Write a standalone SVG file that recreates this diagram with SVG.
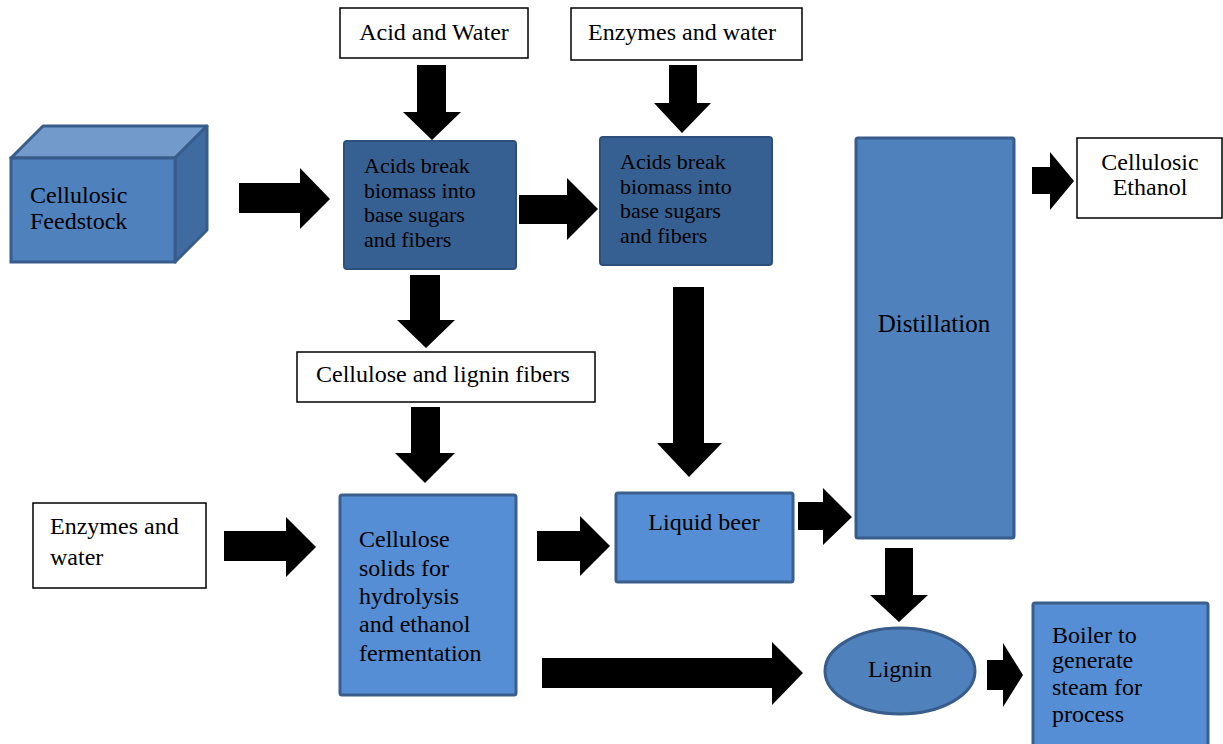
<svg xmlns="http://www.w3.org/2000/svg" width="1223" height="744" viewBox="0 0 1223 744">
<rect width="1223" height="744" fill="#fff"/>
<g id="feedstock">
<polygon points="11,158 43,126 207,126 175,158" fill="#729aca" stroke="#385d8a" stroke-width="3" stroke-linejoin="round"/>
<polygon points="175,158 207,126 207,230 175,262" fill="#3f6ba1" stroke="#385d8a" stroke-width="3" stroke-linejoin="round"/>
<rect x="11" y="158" width="164" height="104" fill="#4f81bd" stroke="#385d8a" stroke-width="3"/>
<text x="30" y="203" font-family="Liberation Serif" font-size="24" fill="#000">Cellulosic</text>
<text x="30" y="229" font-family="Liberation Serif" font-size="24" fill="#000">Feedstock</text>
</g>
<g id="acid-water">
<rect x="340" y="8" width="188" height="50" fill="#fff" stroke="#000" stroke-width="1.5"/>
<text x="434" y="40" text-anchor="middle" font-family="Liberation Serif" font-size="24" fill="#000">Acid and Water</text>
</g>
<g id="enzymes-water-top">
<rect x="571" y="8" width="231" height="52" fill="#fff" stroke="#000" stroke-width="1.5"/>
<text x="682" y="40" text-anchor="middle" font-family="Liberation Serif" font-size="24" fill="#000">Enzymes and water</text>
</g>
<g id="acids-1">
<rect x="344" y="141" width="172" height="128" rx="3" fill="#376092" stroke="#2c4f7c" stroke-width="2"/>
<text x="364" y="173" font-family="Liberation Serif" font-size="22" fill="#000">Acids break</text>
<text x="364" y="198" font-family="Liberation Serif" font-size="22" fill="#000">biomass into</text>
<text x="364" y="222" font-family="Liberation Serif" font-size="22" fill="#000">base sugars</text>
<text x="364" y="247" font-family="Liberation Serif" font-size="22" fill="#000">and fibers</text>
</g>
<g id="acids-2">
<rect x="600" y="137" width="172" height="128" rx="3" fill="#376092" stroke="#2c4f7c" stroke-width="2"/>
<text x="620" y="169" font-family="Liberation Serif" font-size="22" fill="#000">Acids break</text>
<text x="620" y="194" font-family="Liberation Serif" font-size="22" fill="#000">biomass into</text>
<text x="620" y="218" font-family="Liberation Serif" font-size="22" fill="#000">base sugars</text>
<text x="620" y="243" font-family="Liberation Serif" font-size="22" fill="#000">and fibers</text>
</g>
<g id="fibers">
<rect x="297" y="352" width="298" height="50" fill="#fff" stroke="#000" stroke-width="1.5"/>
<text x="316" y="382" font-family="Liberation Serif" font-size="24" fill="#000">Cellulose and lignin fibers</text>
</g>
<g id="enzymes-water-left">
<rect x="33" y="503" width="173" height="85" fill="#fff" stroke="#000" stroke-width="1.5"/>
<text x="50" y="534" font-family="Liberation Serif" font-size="24" fill="#000">Enzymes and</text>
<text x="50" y="565" font-family="Liberation Serif" font-size="24" fill="#000">water</text>
</g>
<g id="solids">
<rect x="340" y="495" width="176" height="200" rx="2" fill="#558ed5" stroke="#3a5f8c" stroke-width="3"/>
<text x="359" y="547" font-family="Liberation Serif" font-size="24" fill="#000">Cellulose</text>
<text x="359" y="576" font-family="Liberation Serif" font-size="24" fill="#000">solids for</text>
<text x="359" y="604" font-family="Liberation Serif" font-size="24" fill="#000">hydrolysis</text>
<text x="359" y="632" font-family="Liberation Serif" font-size="24" fill="#000">and ethanol</text>
<text x="359" y="661" font-family="Liberation Serif" font-size="24" fill="#000">fermentation</text>
</g>
<g id="beer">
<rect x="616" y="493" width="177" height="89" rx="2" fill="#558ed5" stroke="#3a5f8c" stroke-width="3"/>
<text x="704" y="530" text-anchor="middle" font-family="Liberation Serif" font-size="24" fill="#000">Liquid beer</text>
</g>
<g id="distillation">
<rect x="856" y="138" width="158" height="400" rx="2" fill="#4f81bd" stroke="#385d8a" stroke-width="3"/>
<text x="934" y="332" text-anchor="middle" font-family="Liberation Serif" font-size="25" fill="#000">Distillation</text>
</g>
<g id="ethanol">
<rect x="1077" y="138" width="145" height="80" fill="#fff" stroke="#000" stroke-width="1.5"/>
<text x="1150" y="170" text-anchor="middle" font-family="Liberation Serif" font-size="24" fill="#000">Cellulosic</text>
<text x="1150" y="195" text-anchor="middle" font-family="Liberation Serif" font-size="24" fill="#000">Ethanol</text>
</g>
<g id="lignin">
<ellipse cx="900" cy="671" rx="75" ry="43" fill="#4f81bd" stroke="#385d8a" stroke-width="3"/>
<text x="900" y="677" text-anchor="middle" font-family="Liberation Serif" font-size="24" fill="#000">Lignin</text>
</g>
<g id="boiler">
<rect x="1033" y="603" width="175" height="150" rx="2" fill="#558ed5" stroke="#3a5f8c" stroke-width="3"/>
<text x="1052" y="643" font-family="Liberation Serif" font-size="24" fill="#000">Boiler to</text>
<text x="1052" y="668" font-family="Liberation Serif" font-size="24" fill="#000">generate</text>
<text x="1052" y="695" font-family="Liberation Serif" font-size="24" fill="#000">steam for</text>
<text x="1052" y="722" font-family="Liberation Serif" font-size="24" fill="#000">process</text>
</g>
<g id="connectors" fill="#000">
<polygon points="239,183 300,183 300,168 330,199 300,229 300,213 239,213"/>
<polygon points="417,65 446,65 446,112 461,112 432,140 403,112 417,112"/>
<polygon points="669,65 697,65 697,103 711,103 682,133 654,103 669,103"/>
<polygon points="519,195 567,195 567,178 598,209 567,240 567,224 519,224"/>
<polygon points="410,275 440,275 440,320 455,320 426,348 397,320 410,320"/>
<polygon points="411,407 440,407 440,453 455,453 425,483 395,453 411,453"/>
<polygon points="673,287 704,287 704,443 722,443 689,477 657,443 673,443"/>
<polygon points="224,531 286,531 286,517 316,547 286,577 286,561 224,561"/>
<polygon points="537,531 580,531 580,516 610,546 580,576 580,561 537,561"/>
<polygon points="798,502 823,502 823,488 852,517 823,545 823,530 798,530"/>
<polygon points="1032,167 1050,167 1050,152 1074,181 1050,210 1050,194 1032,194"/>
<polygon points="885,548 913,548 913,595 928,595 899,622 870,595 885,595"/>
<polygon points="542,658 772,658 772,642 803,673 772,705 772,688 542,688"/>
<polygon points="987,660 1003,660 1003,643 1023,675 1003,707 1003,690 987,690"/>
</g>
</svg>
